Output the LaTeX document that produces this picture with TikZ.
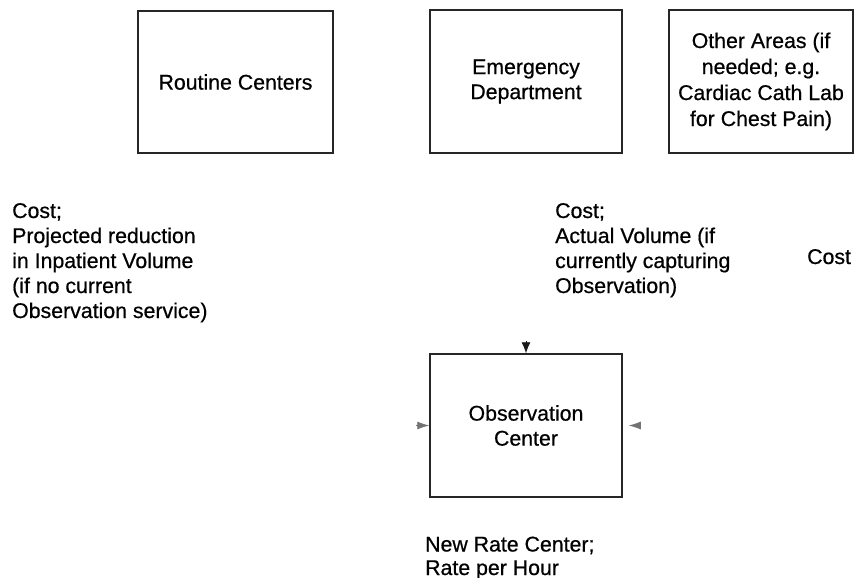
\documentclass[tikz,border=0pt]{standalone}
\usepackage{fontspec}
\setmainfont[FakeBold=0.6]{Liberation Sans}
\usetikzlibrary{arrows.meta}
\begin{document}
\begin{tikzpicture}[x=1pt,y=-1pt,
  every node/.style={font=\fontsize{21.3}{25}\selectfont},
  box/.style={draw=black!85, line width=1.5pt, inner sep=0pt, align=center},
  lbl/.style={inner sep=0pt, align=left, anchor=base west},
  tipdark/.style={-{Latex[length=11pt,width=9pt]}, line width=0.8pt, draw=black!90},
  tipgray/.style={-{Latex[length=12pt,width=8pt]}, line width=0.8pt, draw=black!55}]
\useasboundingbox (0,0) rectangle (855,578);
\node[box, minimum width=195pt, minimum height=142pt] (routine) at (235.5,82) {Routine Centers};
\node[box, minimum width=192pt, minimum height=143pt] (ed) at (526,81.5) {Emergency\\Department};
\node[box, minimum width=184pt, minimum height=143pt, font=\fontsize{21.3}{26}\selectfont] (other) at (761,81.5) {Other Areas (if\\needed; e.g.\\Cardiac Cath Lab\\for Chest Pain)};
\node[box, minimum width=192pt, minimum height=143pt] (obs) at (526,425.5) {Observation\\Center};
\node[lbl] (lcost) at (12,318) {Cost;\\Projected reduction\\in Inpatient Volume\\(if no current\\Observation service)};
\node[lbl] (mcost) at (555,293) {Cost;\\Actual Volume (if\\currently capturing\\Observation)};
\node[lbl] (rcost) at (807,264) {Cost};
\node[lbl, font=\fontsize{21.3}{23.5}\selectfont] (rate) at (425,575) {New Rate Center;\\Rate per Hour};
\coordinate (topsrc) at (526,341);
\coordinate (leftsrc) at (416,425.5);
\coordinate (rightsrc) at (641,425.5);
\draw[tipdark] (topsrc) -- (obs.north);
\draw[tipgray] (leftsrc) -- (obs.west);
\draw[tipgray] (rightsrc) -- ([xshift=6pt]obs.east);
\end{tikzpicture}
\end{document}
